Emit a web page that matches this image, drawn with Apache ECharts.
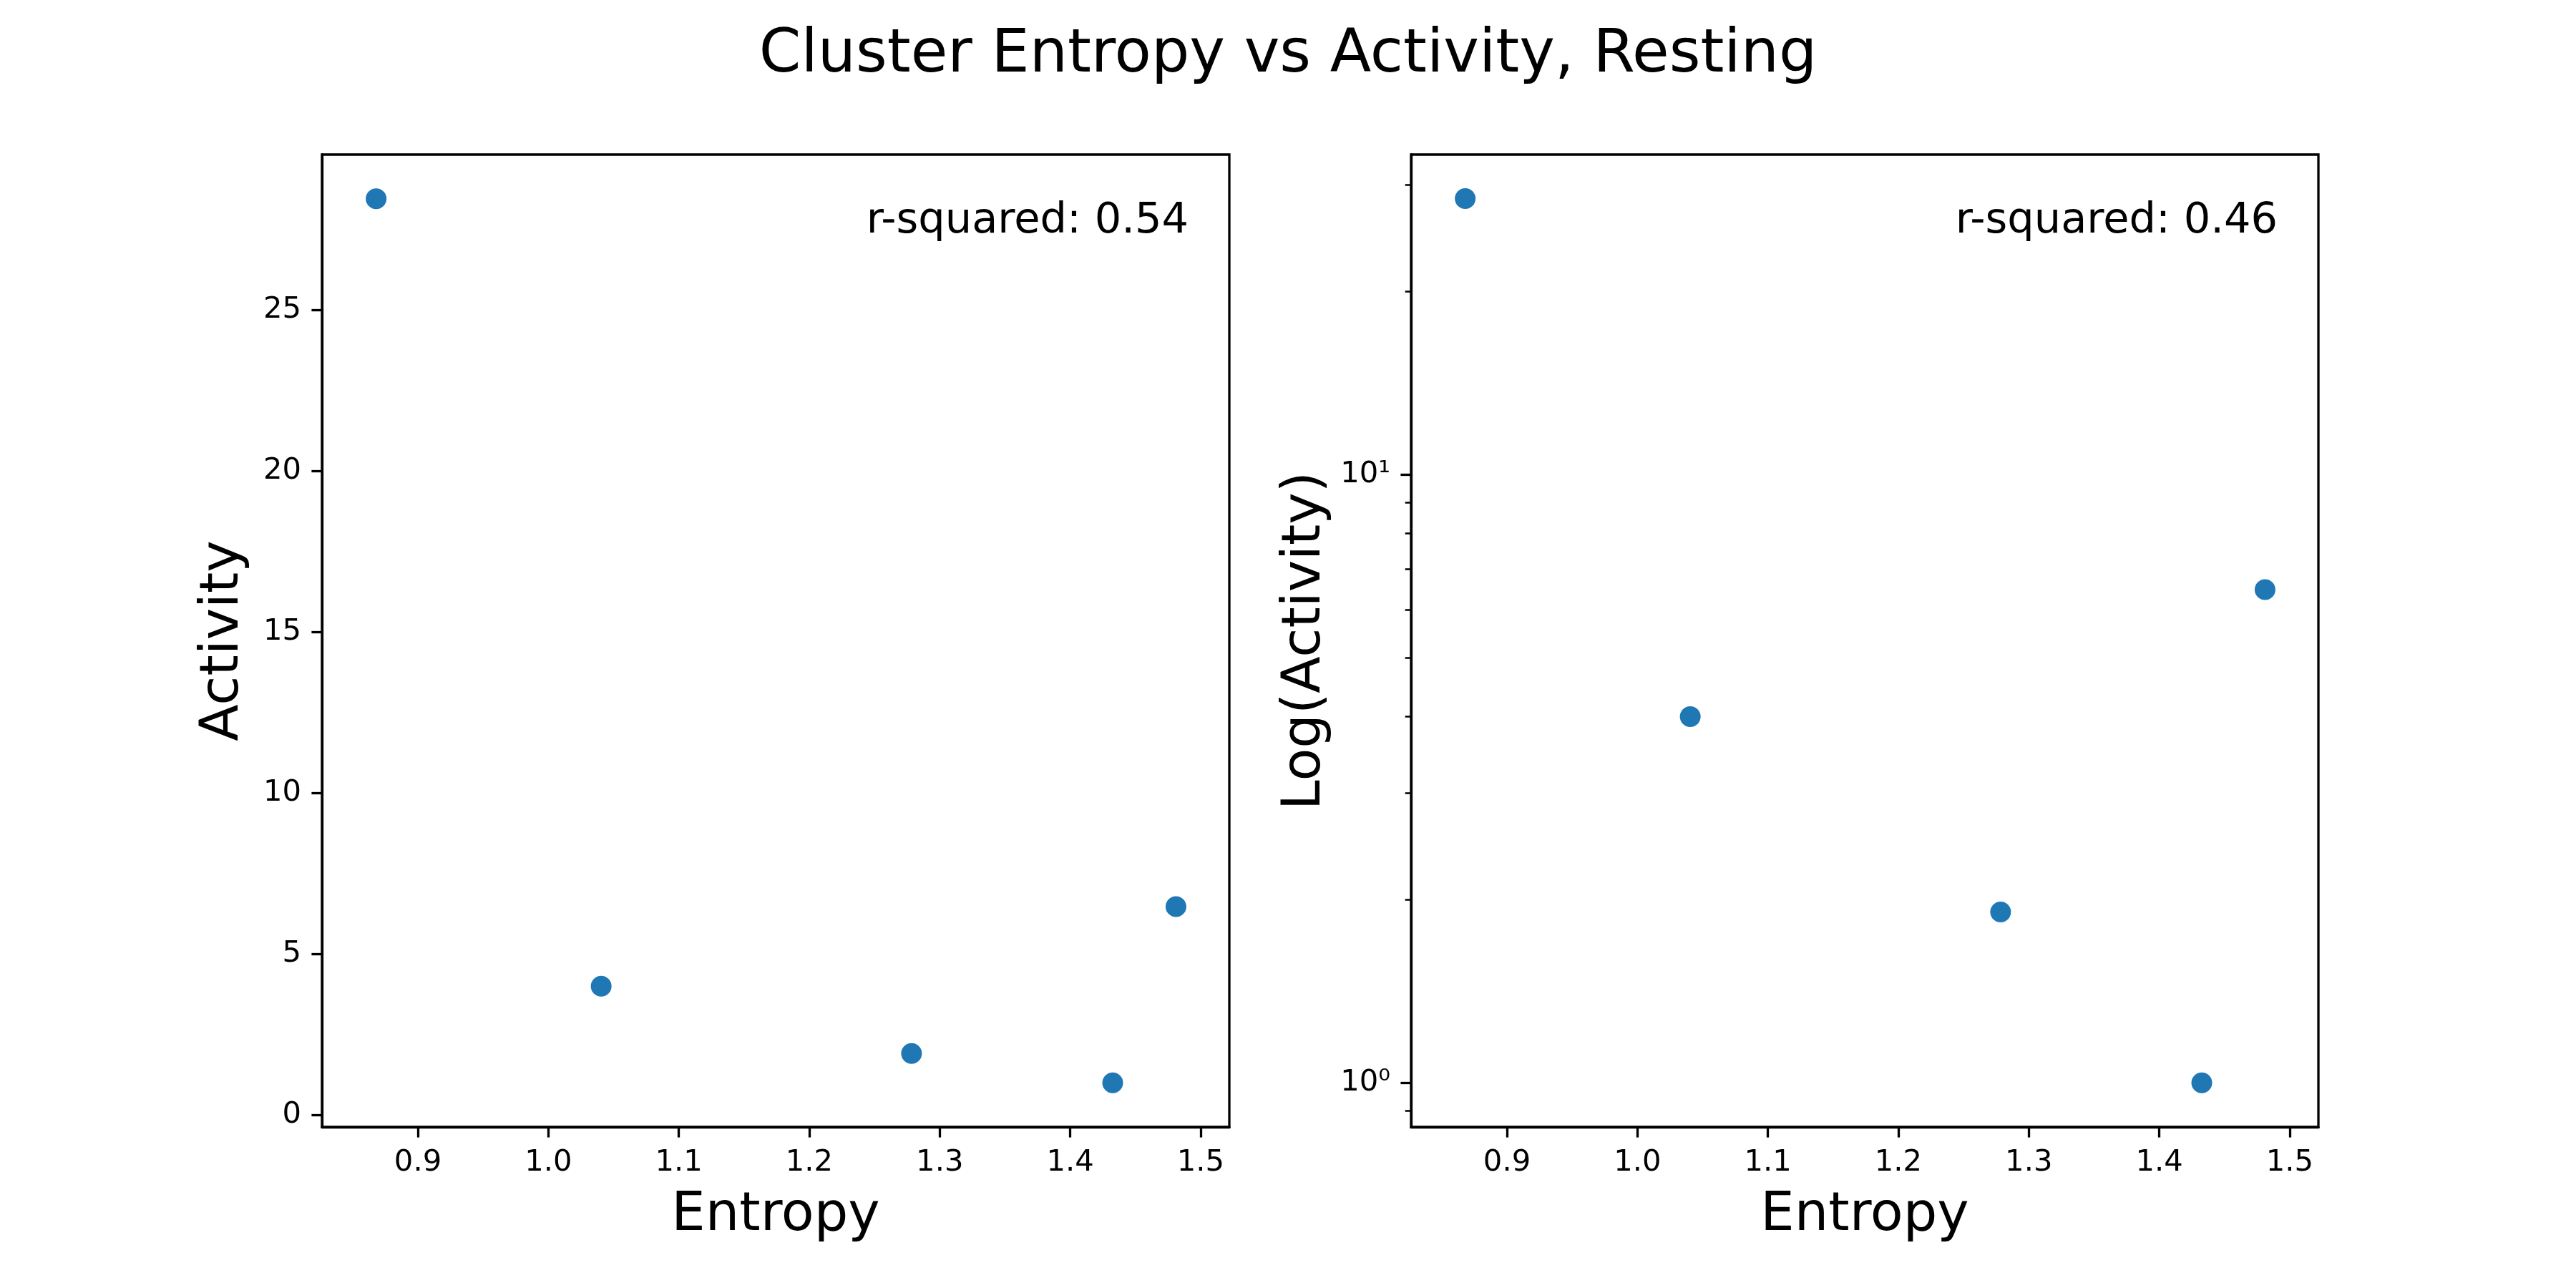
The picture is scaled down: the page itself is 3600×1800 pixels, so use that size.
<!DOCTYPE html>
<html>
<head>
<meta charset="utf-8">
<title>Cluster Entropy vs Activity, Resting</title>
<script src="https://cdn.jsdelivr.net/npm/echarts@6/dist/echarts.min.js"></script>
<style>
  html, body { margin: 0; padding: 0; background: #fff; }
  #chart { width: 3600px; height: 1800px; }
</style>
</head>
<body>
<div id="chart"></div>
<script>
// data
var entropy  = [0.868, 1.0405, 1.2784, 1.4326, 1.4811];
var activity = [28.45, 4.0, 1.91, 1.0, 6.47];
var rSquared = [0.54, 0.46];

// tick labels
var xTicks        = [0.9, 1.0, 1.1, 1.2, 1.3, 1.4, 1.5];
var yTicksLinear  = [0, 5, 10, 15, 20, 25];
var yTicksLogMajor = [1, 10];
var yTicksLogMinor = [0.9, 2, 3, 4, 5, 6, 7, 8, 9, 20, 30];

var FONT = 'DejaVu Sans';
var BLUE = '#1f77b4';

var points = entropy.map(function (x, i) { return [x, activity[i]]; });

var chart = echarts.init(document.getElementById('chart'), null, { renderer: 'canvas' });

// common axis bits (matplotlib-ish)
function xAxisOf(gridIndex) {
  return {
    type: 'value',
    gridIndex: gridIndex,
    min: 0.8265,
    max: 1.522,
    name: 'Entropy',
    nameLocation: 'middle',
    nameGap: 87,
    nameTextStyle: { fontFamily: FONT, fontSize: 75, color: '#000' },
    axisLine: { show: true, onZero: false, lineStyle: { color: '#000', width: 3.3 } },
    axisTick: { show: true, length: 14.6, customValues: xTicks, lineStyle: { color: '#000', width: 3.3 } },
    axisLabel: {
      customValues: xTicks, margin: 29, fontFamily: FONT, fontSize: 41.7, color: '#000',
      formatter: function (v) { return v.toFixed(1); }
    },
    splitLine: { show: false }
  };
}

chart.setOption({
  animation: false,
  backgroundColor: '#fff',
  title: {
    text: 'Cluster Entropy vs Activity, Resting',
    left: 'center',
    top: 31,
    textStyle: { fontFamily: FONT, fontSize: 84, fontWeight: 'normal', color: '#000' }
  },
  grid: [
    { left: 450,  top: 216, width: 1268, height: 1359, show: true, borderColor: '#000', borderWidth: 3.3, backgroundColor: 'transparent' },
    { left: 1972, top: 216, width: 1268, height: 1359, show: true, borderColor: '#000', borderWidth: 3.3, backgroundColor: 'transparent' }
  ],
  xAxis: [xAxisOf(0), xAxisOf(1)],
  yAxis: [
    {
      type: 'value',
      gridIndex: 0,
      min: -0.37,
      max: 29.82,
      name: 'Activity',
      nameLocation: 'middle',
      nameRotate: 90,
      nameGap: 100,
      nameTextStyle: { fontFamily: FONT, fontSize: 75, color: '#000' },
      axisLine: { show: true, onZero: false, lineStyle: { color: '#000', width: 3.3 } },
      axisTick: { show: true, length: 14.6, customValues: yTicksLinear, lineStyle: { color: '#000', width: 3.3 } },
      axisLabel: { customValues: yTicksLinear, margin: 29, fontFamily: FONT, fontSize: 41.7, color: '#000' },
      splitLine: { show: false }
    },
    {
      // log axis, major ticks 10^0, 10^1
      type: 'log',
      logBase: 10,
      gridIndex: 1,
      position: 'left',
      min: 0.846,
      max: 33.6,
      name: 'Log(Activity)',
      nameLocation: 'middle',
      nameRotate: 90,
      nameGap: 110,
      nameTextStyle: { fontFamily: FONT, fontSize: 75, color: '#000' },
      axisLine: { show: true, onZero: false, lineStyle: { color: '#000', width: 3.3 } },
      axisTick: { show: true, length: 14.6, customValues: yTicksLogMajor, lineStyle: { color: '#000', width: 3.3 } },
      axisLabel: {
        customValues: yTicksLogMajor, margin: 29, fontFamily: FONT, fontSize: 41.7, color: '#000',
        formatter: function (v) { return Math.round(Math.log10(v)) === 0 ? '10\u2070' : '10\u00b9'; }
      },
      splitLine: { show: false }
    },
    {
      // same log axis again, only for the minor ticks
      type: 'log',
      logBase: 10,
      gridIndex: 1,
      position: 'left',
      offset: 0,
      min: 0.846,
      max: 33.6,
      axisLine: { show: false, onZero: false },
      axisTick: { show: true, length: 8.3, customValues: yTicksLogMinor, lineStyle: { color: '#000', width: 2.5 } },
      axisLabel: { show: false },
      splitLine: { show: false }
    }
  ],
  graphic: [
    {
      type: 'text', x: 1661, y: 310,
      style: { text: 'r-squared: ' + rSquared[0].toFixed(2), font: '59px "DejaVu Sans"', fill: '#000', textAlign: 'right', textVerticalAlign: 'middle' }
    },
    {
      type: 'text', x: 3183, y: 310,
      style: { text: 'r-squared: ' + rSquared[1].toFixed(2), font: '59px "DejaVu Sans"', fill: '#000', textAlign: 'right', textVerticalAlign: 'middle' }
    }
  ],
  series: [
    {
      type: 'scatter', xAxisIndex: 0, yAxisIndex: 0,
      symbolSize: 29, itemStyle: { color: BLUE, opacity: 1 },
      data: points
    },
    {
      type: 'scatter', xAxisIndex: 1, yAxisIndex: 1,
      symbolSize: 29, itemStyle: { color: BLUE, opacity: 1 },
      data: points
    }
  ]
});
</script>
</body>
</html>
